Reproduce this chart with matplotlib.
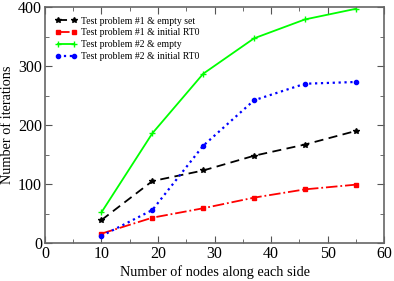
import matplotlib.pyplot as plt
from matplotlib.ticker import MultipleLocator

plt.rcParams['font.family'] = ['Liberation Serif', 'DejaVu Serif']

nodes = [10, 19, 28, 37, 46, 55]
p1_empty = [39, 105, 123, 148, 167, 190]
p1_rt0 = [16, 43, 59, 77, 91, 99]
p2_empty = [52, 186, 287, 347, 379, 397]
p2_rt0 = [12, 56, 165, 242, 270, 273]

fig = plt.figure(figsize=(3.94, 2.81), dpi=100)
ax = fig.add_axes([0.114, 0.135, 0.861, 0.84])

ax.plot(nodes, p1_empty, color='black', linestyle=(0, (5, 3)), marker='*',
        markersize=4, linewidth=1.3, label='Test problem #1 & empty set')
ax.plot(nodes, p1_rt0, color='red', linestyle='-.', marker='s',
        markersize=2.5, linewidth=1.3, label='Test problem #1 & initial RT0')
ax.plot(nodes, p2_empty, color='#00ff00', linestyle='-', marker='+',
        markersize=4, linewidth=1.3, label='Test problem #2 & empty')
ax.plot(nodes, p2_rt0, color='blue', linestyle=':', marker='o',
        markersize=3, linewidth=1.6, label='Test problem #2 & initial RT0')

ax.set_xlim(0, 60)
ax.set_ylim(0, 400)
ax.xaxis.set_major_locator(MultipleLocator(10))
ax.xaxis.set_minor_locator(MultipleLocator(5))
ax.yaxis.set_major_locator(MultipleLocator(100))
ax.yaxis.set_minor_locator(MultipleLocator(50))
ax.tick_params(which='both', direction='in', top=True, right=True,
               labelsize=11.5, color='#555555', pad=2)
ax.tick_params(which='major', length=5)
ax.tick_params(which='minor', length=3)
for s in ax.spines.values():
    s.set_color('#666666')
    s.set_linewidth(1.2)

ax.set_xlabel('Number of nodes along each side', fontsize=10.3)
ax.set_ylabel('Number of iterations', fontsize=10.3)
ax.xaxis.set_label_coords(0.5, -0.095)
ax.yaxis.set_label_coords(-0.092, 0.5)

ax.legend(loc='upper left', frameon=False, fontsize=7, numpoints=2,
          handlelength=2.3, labelspacing=0.28, borderaxespad=0.6,
          handletextpad=0.4, borderpad=0.4)

fig.savefig('out.png', dpi=100)
